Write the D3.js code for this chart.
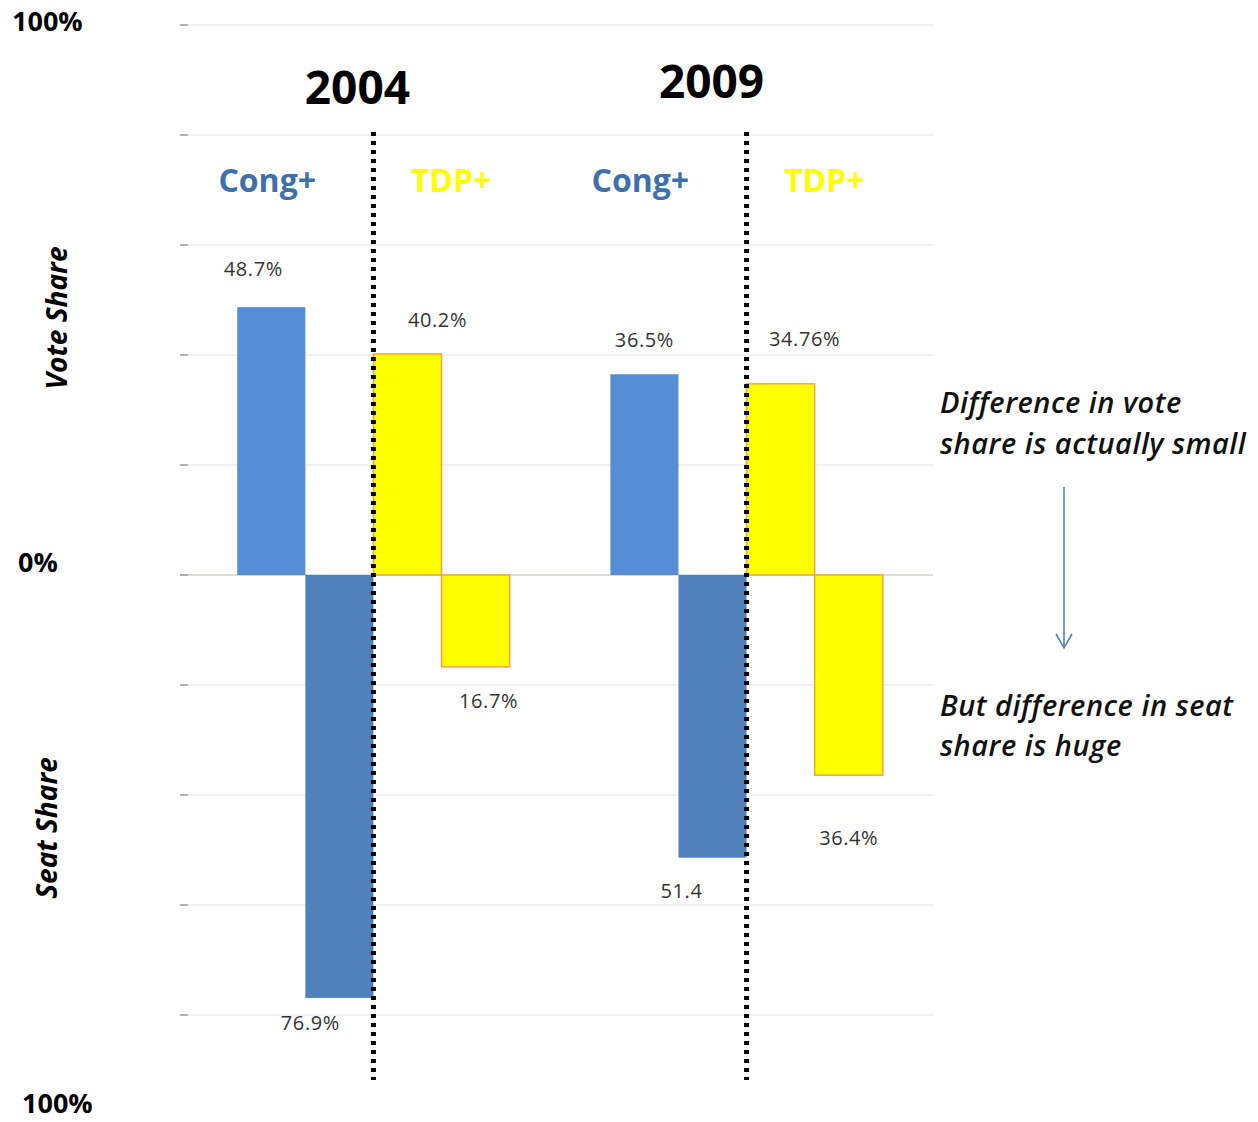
<!DOCTYPE html>
<html>
<head>
<meta charset="utf-8">
<script src="https://cdn.jsdelivr.net/npm/d3@7"></script>
<style>
  html, body { margin: 0; padding: 0; background: #fff; }
  svg { display: block; font-family: "Open Sans", "Noto Sans", sans-serif; }
</style>
</head>
<body>
<div id="chart"></div>
<script>
// data
const years = ['2004', '2009'];
const series = ['congVote', 'congSeat', 'tdpVote', 'tdpSeat'];
const congVote = [48.7, 36.5];
const congSeat = [76.9, 51.4];
const tdpVote = [40.2, 34.76];
const tdpSeat = [16.7, 36.4];
const congVoteLabels = ['48.7%', '36.5%'];
const congSeatLabels = ['76.9%', '51.4'];
const tdpVoteLabels = ['40.2%', '34.76%'];
const tdpSeatLabels = ['16.7%', '36.4%'];
const yTicks = [-100, -80, -60, -40, -20, 0, 20, 40, 60, 80, 100];

const width = 1258;
const height = 1122;

const values = { congVote, congSeat, tdpVote, tdpSeat };
const labels = { congVote: congVoteLabels, congSeat: congSeatLabels, tdpVote: tdpVoteLabels, tdpSeat: tdpSeatLabels };
// seat shares hang below zero
const sign = { congVote: 1, congSeat: -1, tdpVote: 1, tdpSeat: -1 };

const color = {
  congVote: '#558ed5',
  congSeat: '#4f81bd',
  tdpVote: '#ffff00',
  tdpSeat: '#ffff00'
};

// label offsets from end of bar [dx, dy]
const labelNudge = {
  '2004': { congVote: [-18, -36], congSeat: [-29, 27], tdpVote: [30, -32], tdpSeat: [13, 36] },
  '2009': { congVote: [0, -33], congSeat: [-31, 35], tdpVote: [24, -43], tdpSeat: [0, 64] }
};

const svg = d3.select('#chart')
  .append('svg')
  .attr('width', width)
  .attr('height', height);

const y = d3.scaleLinear()
  .domain([-100, 100])
  .range([1125, 25]);

const x0 = d3.scaleBand()
  .domain(years)
  .range([185, 935])
  .paddingInner(0.27)
  .paddingOuter(0.14);

const x1 = d3.scaleBand()
  .domain(series)
  .range([0, x0.bandwidth()]);

// gridlines + little ticks
const grid = svg.append('g');
grid.selectAll('line.grid')
  .data(yTicks)
  .enter()
  .append('line')
  .attr('class', 'grid')
  .attr('x1', 180)
  .attr('x2', 933)
  .attr('y1', d => y(d))
  .attr('y2', d => y(d))
  .attr('stroke', d => d === 0 ? '#bdb8ae' : '#e6e2da')
  .attr('stroke-width', 1);

grid.selectAll('line.tick')
  .data(yTicks)
  .enter()
  .append('line')
  .attr('class', 'tick')
  .attr('x1', 180)
  .attr('x2', 188)
  .attr('y1', d => y(d))
  .attr('y2', d => y(d))
  .attr('stroke', '#8a8a8a')
  .attr('stroke-width', 1.2);

// bars
const rows = [];
years.forEach((yr, i) => {
  series.forEach(s => {
    rows.push({ year: yr, key: s, value: values[s][i] * sign[s], label: labels[s][i] });
  });
});

svg.append('g')
  .selectAll('rect')
  .data(rows)
  .enter()
  .append('rect')
  .attr('x', d => x0(d.year) + x1(d.key))
  .attr('width', x1.bandwidth())
  .attr('y', d => y(Math.max(0, d.value)))
  .attr('height', d => Math.abs(y(d.value) - y(0)))
  .attr('fill', d => color[d.key])
  .attr('stroke', d => d.key.startsWith('tdp') ? '#f4a442' : 'none')
  .attr('stroke-width', 1.5);

// value labels
svg.append('g')
  .selectAll('text')
  .data(rows)
  .enter()
  .append('text')
  .attr('x', d => x0(d.year) + x1(d.key) + x1.bandwidth() / 2 + labelNudge[d.year][d.key][0])
  .attr('y', d => y(d.value) + labelNudge[d.year][d.key][1])
  .attr('text-anchor', 'middle')
  .attr('dominant-baseline', 'middle')
  .attr('font-size', 20)
  .attr('letter-spacing', 0.6)
  .attr('fill', '#333')
  .text(d => d.label);

// dotted separators
svg.append('g')
  .selectAll('line')
  .data(years)
  .enter()
  .append('line')
  .attr('x1', d => x0(d) + x1('tdpVote'))
  .attr('x2', d => x0(d) + x1('tdpVote'))
  .attr('y1', 132)
  .attr('y2', 1080)
  .attr('stroke', '#000')
  .attr('stroke-width', 5)
  .attr('stroke-dasharray', '4,5');

// year titles
const yearDx = { '2004': -16, '2009': -35 };
const yearY = { '2004': 104, '2009': 98 };
svg.append('g')
  .selectAll('text')
  .data(years)
  .enter()
  .append('text')
  .attr('x', d => x0(d) + x1('tdpVote') + yearDx[d])
  .attr('y', d => yearY[d])
  .attr('text-anchor', 'middle')
  .attr('font-size', 46)
  .attr('font-weight', 'bold')
  .attr('fill', '#000')
  .text(d => d);

// party headings
const party = svg.append('g');
years.forEach(yr => {
  party.append('text')
    .attr('x', x0(yr) + x0.bandwidth() * 0.11)
    .attr('y', 192)
    .attr('text-anchor', 'middle')
    .attr('font-size', 32)
    .attr('font-weight', 'bold')
    .attr('fill', '#3f70aa')
    .text('Cong+');
  party.append('text')
    .attr('x', x0(yr) + x0.bandwidth() * 0.785)
    .attr('y', 192)
    .attr('text-anchor', 'middle')
    .attr('font-size', 32)
    .attr('font-weight', 'bold')
    .attr('fill', '#ffff00')
    .text('TDP+');
});

// axis end labels
const axisLab = svg.append('g')
  .attr('font-size', 27)
  .attr('font-weight', 'bold')
  .attr('fill', '#000');
axisLab.append('text').attr('x', 12).attr('y', y(100) + 6).text('100%');
axisLab.append('text').attr('x', 18).attr('y', y(0) - 3).text('0%');
axisLab.append('text').attr('x', 22).attr('y', 1113).text('100%');

// rotated side titles
svg.append('text')
  .attr('transform', 'translate(67,318) rotate(-90)')
  .attr('text-anchor', 'middle')
  .attr('font-size', 28)
  .attr('font-weight', 'bold')
  .attr('font-style', 'italic')
  .text('Vote Share');

svg.append('text')
  .attr('transform', 'translate(57,828) rotate(-90)')
  .attr('text-anchor', 'middle')
  .attr('font-size', 28)
  .attr('font-weight', 'bold')
  .attr('font-style', 'italic')
  .text('Seat Share');

// annotations
const note = svg.append('g')
  .attr('font-size', 29)
  .attr('font-style', 'italic')
  .attr('font-weight', 600)
  .attr('letter-spacing', 0.5)
  .attr('fill', '#111');
note.append('text').attr('x', 940).attr('y', 413).text('Difference in vote');
note.append('text').attr('x', 940).attr('y', 454).text('share is actually small');
note.append('text').attr('x', 940).attr('y', 716).text('But difference  in seat');
note.append('text').attr('x', 940).attr('y', 756).text('share is huge');

// arrow
const arrow = svg.append('g')
  .attr('stroke', '#4f81bd')
  .attr('stroke-width', 1.6)
  .attr('fill', 'none');
arrow.append('line')
  .attr('x1', 1064).attr('x2', 1064)
  .attr('y1', 487).attr('y2', 648);
arrow.append('path')
  .attr('d', 'M1056,634 L1064,648 L1072,634');
</script>
</body>
</html>
